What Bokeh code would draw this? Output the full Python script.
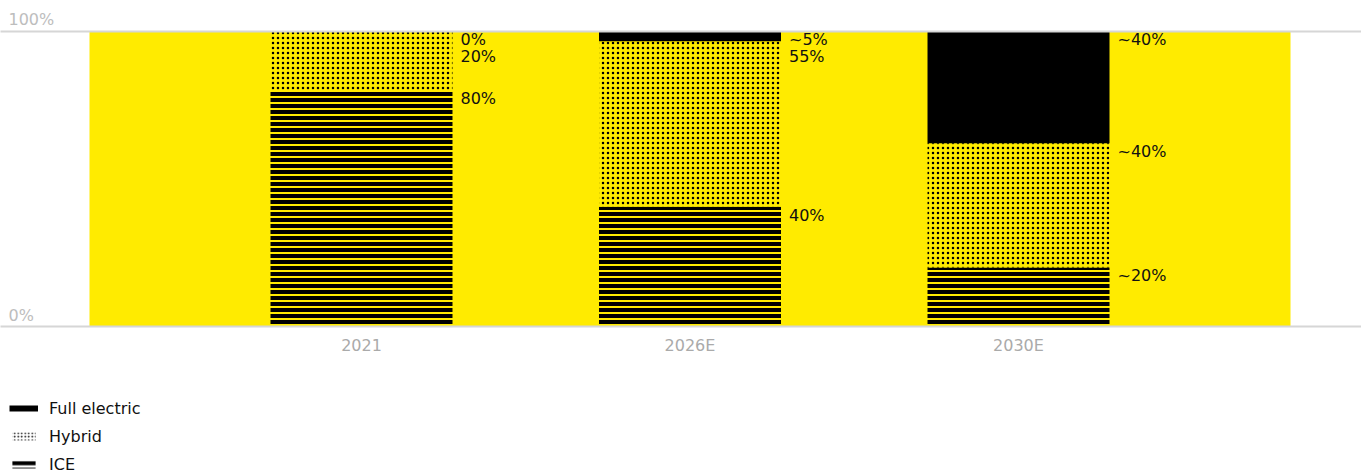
from bokeh.plotting import figure
from bokeh.layouts import column
from bokeh.models import ColumnDataSource, Range1d, FixedTicker, Legend, LegendItem
from bokeh.core.properties import value
from bokeh.embed import file_html
from bokeh.resources import INLINE

years = ["2021", "2026E", "2030E"]
ice = [80, 40.5, 20]
hybrid = [20, 56, 42]
full_electric = [0, 3.5, 38]
ice_labels = ["80%", "40%", "~20%"]
hybrid_labels = ["20%", "55%", "~40%"]
full_labels = ["0%", "~5%", "~40%"]
y_ticks = [0, 100]
y_tick_labels = ["0%", "100%"]
series_names = ["Full electric", "Hybrid", "ICE"]

YELLOW = "#FFEB00"
FONT = "DejaVu Sans"
NAN = float("nan")
x = list(range(len(years)))
bar_w = 0.554
bg_pad = 0.828

p = figure(width=1361, height=398,
           x_range=Range1d(-1.0989, 3.0441), y_range=Range1d(-1.015, 106.94),
           output_backend="svg", toolbar_location=None, y_axis_location=None,
           min_border_left=0, min_border_right=0, min_border_top=10, min_border_bottom=69)
p.outline_line_color = None
p.xgrid.visible = False
p.ygrid.ticker = FixedTicker(ticks=y_ticks)
p.ygrid.grid_line_color = "#d6d6d6"
p.ygrid.grid_line_width = 2
p.ygrid.level = "overlay"

# yellow background panel
p.quad(left=[x[0] - bg_pad], right=[x[-1] + bg_pad], bottom=[y_ticks[0]], top=[y_ticks[-1]],
       fill_color=YELLOW, line_color=None)

src = ColumnDataSource(dict(x=x, ice=ice, hybrid=hybrid, full=full_electric))
rs = p.vbar_stack(["ice", "hybrid", "full"], x="x", width=bar_w, source=src,
                  fill_color=[YELLOW, YELLOW, "black"], line_color=None,
                  hatch_pattern=["horizontal_line", "dot", " "],
                  hatch_color="black", hatch_scale=[6, 5, 6], hatch_weight=[4, 2, 1])

# value labels with simple collision avoidance
min_gap = 5.7
lx, ly, lt = [], [], []
for i in range(len(years)):
    tops = [ice[i], ice[i] + hybrid[i], ice[i] + hybrid[i] + full_electric[i]]
    texts = [ice_labels[i], hybrid_labels[i], full_labels[i]]
    prev = None
    for top, t in zip(reversed(tops), reversed(texts)):
        yy = top if prev is None else min(top, prev - min_gap)
        prev = yy
        lx.append(x[i] + bar_w / 2)
        ly.append(yy)
        lt.append(t)
p.text(x=lx, y=ly, text=lt, x_offset=8, y_offset=-1, text_baseline="top", text_align="left",
       text_font=value(FONT), text_font_size="16px", text_color="#111111")

# y tick labels above grid lines
p.text(x=[p.x_range.start] * len(y_ticks), y=y_ticks, text=y_tick_labels, x_offset=8, y_offset=-2,
       text_baseline="bottom", text_align="left", text_font=value(FONT), text_font_size="16px",
       text_color="#bdbdbd")

ax = p.xaxis[0]
ax.ticker = FixedTicker(ticks=x)
ax.major_label_overrides = {i: y for i, y in zip(x, years)}
ax.axis_line_color = None
ax.major_tick_line_color = None
ax.minor_tick_line_color = None
ax.major_tick_out = 0
ax.major_tick_in = 0
ax.major_label_standoff = 6
ax.major_label_text_font = FONT
ax.major_label_text_font_size = "16px"
ax.major_label_text_color = "#aaaaaa"

# legend figure
q = figure(width=1361, height=76, x_range=Range1d(0, 1), y_range=Range1d(0, 1),
           output_backend="svg", toolbar_location=None, x_axis_location=None, y_axis_location=None,
           min_border=0)
q.outline_line_color = None
q.grid.visible = False
lp_full = q.line(x=[NAN, NAN], y=[NAN, NAN], line_color="black", line_width=6)
lp_hyb = q.rect(x=[NAN], y=[NAN], width=1, height=1, fill_color="white", fill_alpha=0, line_color=None,
                hatch_pattern="dot", hatch_color="black", hatch_scale=3.5, hatch_weight=1.6)
lp_ice = q.rect(x=[NAN], y=[NAN], width=1, height=1, fill_color="white", fill_alpha=0, line_color=None,
                hatch_pattern="horizontal_line", hatch_color="black", hatch_scale=6.5, hatch_weight=4)
legend = Legend(items=[LegendItem(label=series_names[0], renderers=[lp_full]),
                       LegendItem(label=series_names[1], renderers=[lp_hyb]),
                       LegendItem(label=series_names[2], renderers=[lp_ice])],
                location=(9, 0), margin=0, padding=0, spacing=8, label_height=20,
                glyph_height=10, glyph_width=29, label_standoff=11,
                border_line_color=None, background_fill_alpha=0,
                label_text_font=FONT, label_text_font_size="16px", label_text_color="#111111")
q.add_layout(legend, "center")

layout = column(p, q, spacing=0)
open("out.html", "w").write(file_html(layout, INLINE))
